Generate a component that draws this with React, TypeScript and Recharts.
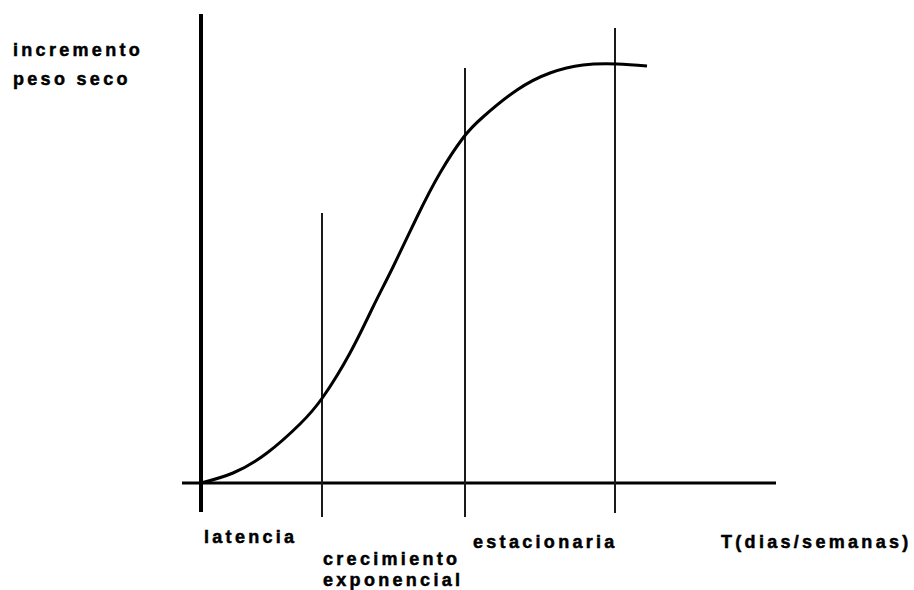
import React from 'react';
import { ComposedChart, Line, XAxis, YAxis, ReferenceLine } from 'recharts';

// Growth curve (time units, dry-weight increment units)
const timeValues = [0, 3.2, 6.6, 9.9, 12.2, 14.9, 17.2, 19.2, 21.6, 23.9, 26.2, 28.2, 31.6, 34.9, 38.2, 41.6, 44.6];
const weightValues = [0, 1.0, 3.0, 5.9, 8.6, 13.0, 17.6, 21.6, 26.6, 31.0, 34.5, 36.6, 39.3, 41.0, 41.8, 41.9, 41.7];

// Phase boundaries
const phaseX = [12.1, 26.4, 41.4];
const phaseBottom = [-3.4, -3.4, -3.0];
const phaseTop = [27.0, 41.5, 45.5];

// Axis extents
const yAxisExtent = [-2.9, 46.9];
const xDomain = [-1.9, 57.5];
const yDomain = [-3.5, 47.3];

// Phase labels along the time axis
const tickPositions = [0.3, 12.2, 27.2, 52.0];
const tickLabels = [['latencia'], ['crecimiento', 'exponencial'], ['estacionaria'], ['T(dias/semanas)']];
const yLabelLines = ['incremento', 'peso seco'];

const data = timeValues.map((t, i) => ({ t, w: weightValues[i] }));

const FONT = '"Liberation Sans", Arial, sans-serif';
const textStyle = {
  fontFamily: FONT,
  fontWeight: 700,
  fontSize: 18,
  letterSpacing: 3.3,
  fill: '#000',
  stroke: '#000',
  strokeWidth: 0.5,
} as const;

// label baselines (styling)
const tickBaselines = [[543], [565, 586], [548], [548]];

const PhaseTick = (props: any) => {
  const { x, index } = props;
  const lines = tickLabels[index] || [];
  const bases = tickBaselines[index] || [];
  return (
    <g>
      {lines.map((l: string, i: number) => (
        <text key={i} x={x} y={bases[i]} textAnchor="start" style={textStyle}>
          {l}
        </text>
      ))}
    </g>
  );
};

const YLabel = () => (
  <g>
    <text x={13} y={56} style={textStyle}>{yLabelLines[0]}</text>
    <text x={13} y={85} style={textStyle}>{yLabelLines[1]}</text>
  </g>
);

export default function App() {
  return (
    <div style={{ position: 'absolute', left: 0, top: 0, width: 914, height: 590, background: '#fff' }}>
      <ComposedChart width={914} height={590} data={data} margin={{ top: 10, right: 138, bottom: 0, left: 0 }}>
        <XAxis
          type="number"
          dataKey="t"
          domain={xDomain}
          allowDataOverflow
          ticks={tickPositions}
          interval={0}
          axisLine={false}
          tickLine={false}
          tick={<PhaseTick />}
          height={72}
        />
        <YAxis
          type="number"
          domain={yDomain}
          allowDataOverflow
          width={182}
          tick={false}
          axisLine={false}
          tickLine={false}
          label={{ content: () => <YLabel /> }}
        />
        <ReferenceLine y={0} stroke="#000" strokeWidth={3} />
        <ReferenceLine
          segment={[{ x: 0, y: yAxisExtent[0] }, { x: 0, y: yAxisExtent[1] }]}
          stroke="#000"
          strokeWidth={4}
        />
        {phaseX.map((px, i) => (
          <ReferenceLine
            key={i}
            segment={[{ x: px, y: phaseBottom[i] }, { x: px, y: phaseTop[i] }]}
            stroke="#1a1a1a"
            strokeWidth={2}
          />
        ))}
        <Line
          type="natural"
          dataKey="w"
          stroke="#000"
          strokeWidth={3}
          dot={false}
          isAnimationActive={false}
        />
      </ComposedChart>
    </div>
  );
}
